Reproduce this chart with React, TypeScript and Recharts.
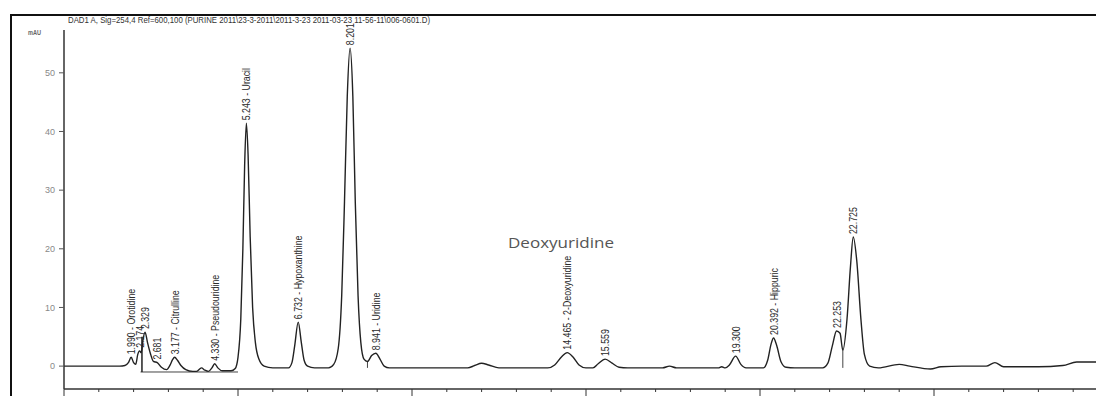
import React from 'react';
import { ComposedChart, Line, XAxis, YAxis, ReferenceDot, ReferenceLine } from 'recharts';

// Chromatogram signal (time in minutes, mAU)
const sigTime = [
  0, 1.0, 1.6, 1.75, 1.85, 1.93, 2.0, 2.06, 2.12, 2.17, 2.22, 2.27, 2.33, 2.4, 2.48, 2.57, 2.68, 2.8, 2.95,
  3.05, 3.12, 3.18, 3.26, 3.36, 3.5, 3.7, 3.8, 3.95, 4.05, 4.15, 4.25, 4.33, 4.42, 4.55, 4.8, 4.92,
  5.0, 5.08, 5.14, 5.19, 5.24, 5.29, 5.35, 5.42, 5.5, 5.6, 5.75, 6.0,
  6.45, 6.55, 6.63, 6.73, 6.82, 6.9, 7.0, 7.2, 7.6,
  7.75, 7.88, 7.98, 8.06, 8.14, 8.22, 8.3, 8.37, 8.45, 8.53, 8.62, 8.72, 8.84, 8.96, 9.08, 9.2, 9.35,
  11.6, 11.8, 12.0, 12.2, 12.5, 13.9, 14.1, 14.3, 14.46, 14.62, 14.8, 15.0, 15.2, 15.35, 15.55, 15.75, 15.95, 16.2,
  17.2, 17.4, 17.6, 18.8, 18.9, 19.0, 19.12, 19.3, 19.45, 19.6,
  20.1, 20.22, 20.32, 20.39, 20.48, 20.6, 20.75, 21.0,
  21.8, 21.95, 22.08, 22.2, 22.3, 22.38, 22.5, 22.6, 22.68, 22.78, 22.9, 23.0, 23.15, 23.4,
  24.0, 24.3, 24.9, 25.2, 25.8, 26.5, 26.75, 27.0, 28.0, 28.7, 29.1, 29.6, 30.0,
];
const sigValue = [
  0, 0, 0, 0.1, 0.6, 1.5, 0.6, 0.3, 2.0, 2.6, 2.3, 4.5, 5.8, 4.0, 2.2, 0.8, 0.6, -0.2, -0.6,
  0.2, 1.1, 1.5, 1.0, 0.1, -0.6, -0.9, -0.9, -0.3, -0.7, -0.9, -0.3, 0.4, -0.3, -0.8, -0.8, -0.4,
  1.5, 8, 20, 34, 41.4, 36, 22, 10, 4, 1.2, 0, -0.3,
  -0.3, 0.6, 3.5, 7.5, 4.0, 1.0, 0, -0.3, -0.3,
  0.3, 3, 12, 28, 46, 54.2, 46, 28, 12, 4, 1.2, 0.8, 1.8, 2.2, 1.2, 0, -0.3,
  -0.3, 0.1, 0.5, 0.2, -0.3, -0.3, 0.2, 1.6, 2.3, 1.6, 0.2, -0.3, -0.3, 0.4, 1.2, 0.5, -0.2, -0.3,
  -0.3, 0.0, -0.3, -0.3, -0.1, -0.3, 0.2, 1.7, 0.3, -0.3,
  -0.3, 1.0, 3.8, 4.8, 3.5, 0.8, -0.2, -0.3,
  -0.3, 0.5, 3.5, 6.0, 5.6, 2.7, 8, 17, 22, 18, 8, 2, 0, -0.3,
  0.3, 0, -0.5, -0.1, 0, 0, 0.6, -0.1, -0.1, 0.1, 0.7, 0.7, 0.7,
];

// Peak annotations
const peakTimes = [1.93, 2.174, 2.329, 2.681, 3.177, 4.33, 5.243, 6.732, 8.22, 8.96, 14.465, 15.559, 19.3, 20.392, 22.2, 22.68];
const peakHeights = [1.5, 2.6, 5.8, 0.6, 1.5, 0.4, 41.4, 7.5, 54.2, 2.2, 2.3, 1.2, 1.7, 4.8, 6.0, 22];
const peakNames = [
  '1.990 - Orotidine', '2.174', '2.329', '2.681', '3.177 - Citrulline', '4.330 - Pseudouridine',
  '5.243 - Uracil', '6.732 - Hypoxanthine', '8.201', '8.941 - Uridine', '14.465 - 2-Deoxyuridine',
  '15.559', '19.300', '20.392 - Hippuric', '22.253', '22.725',
];

const xTicks = Array.from({ length: 31 }, (_, i) => i);
const yTicks = [0, 10, 20, 30, 40, 50];

const signal = sigTime.map((t, i) => ({ t, v: sigValue[i] }));

const FONT = '"Liberation Sans", Arial, sans-serif';

const XTick = (props: any) => {
  const { x, y, payload } = props;
  const major = payload.value % 5 === 0;
  return (
    <g>
      <line x1={x} x2={x} y1={y} y2={y + (major ? 7 : 3)} stroke="#333" strokeWidth={1} />
    </g>
  );
};

const makeLabel = (name: string) => (props: any) => {
  const vb = props.viewBox || {};
  const x = vb.x + (vb.width || 0) / 2;
  const y = vb.y + (vb.height || 0) / 2 - 3;
  return (
    <g transform={`translate(${x},${y}) rotate(-90) scale(0.8,1)`}>
      <text x={0} y={0} dy="0.36em" textAnchor="start" fontSize={11} fill="#2a2a2a" fontFamily={FONT}>
        {name}
      </text>
    </g>
  );
};

export default function App() {
  return (
    <div style={{ position: 'absolute', left: 0, top: 0, width: 1096, height: 396, overflow: 'hidden', background: '#fff' }}>
      <style>{`body{margin:0;overflow:hidden;}`}</style>
      <div
        style={{
          position: 'absolute', left: 10, top: 14, width: 1200, height: 500,
          borderTop: '2px solid #111', borderLeft: '2px solid #111',
        }}
      />
      <div style={{ position: 'absolute', left: 0, top: 0 }}>
        <ComposedChart width={1110} height={410} data={signal} margin={{ top: 30, right: 2, bottom: 0, left: 24 }}>
          <XAxis
            type="number"
            dataKey="t"
            domain={[0, 30]}
            ticks={xTicks}
            interval={0}
            tickSize={0}
            tickMargin={0}
            tick={<XTick />}
            height={21}
            axisLine={{ stroke: '#333', strokeWidth: 1.5 }}
            allowDataOverflow
          />
          <YAxis
            type="number"
            domain={[-3.9, 57.3]}
            ticks={yTicks}
            width={40}
            tickSize={5}
            tickMargin={4}
            tick={{ fontSize: 9, fill: '#888', fontFamily: FONT }}
            tickLine={{ stroke: '#555' }}
            axisLine={{ stroke: '#333', strokeWidth: 1.5 }}
            allowDataOverflow
          />
          <ReferenceLine segment={[{ x: 2.2, y: -1.0 }, { x: 5.0, y: -1.0 }]} stroke="#444" strokeWidth={1} />
          <ReferenceLine segment={[{ x: 2.24, y: -1.0 }, { x: 2.24, y: 5.0 }]} stroke="#222" strokeWidth={1.5} />
          <ReferenceLine segment={[{ x: 8.72, y: -0.3 }, { x: 8.72, y: 0.8 }]} stroke="#444" strokeWidth={1} />
          <ReferenceLine segment={[{ x: 22.38, y: -0.3 }, { x: 22.38, y: 2.7 }]} stroke="#444" strokeWidth={1} />
          <Line
            type="monotone"
            dataKey="v"
            stroke="#222"
            strokeWidth={1.4}
            dot={false}
            isAnimationActive={false}
          />
          {peakTimes.map((t, i) => (
            <ReferenceDot
              key={i}
              x={t}
              y={peakHeights[i]}
              r={0}
              fill="none"
              stroke="none"
              label={makeLabel(peakNames[i])}
            />
          ))}
        </ComposedChart>
      </div>
      <svg width={1096} height={396} style={{ position: 'absolute', left: 0, top: 0, pointerEvents: 'none' }}>
        <text x={68} y={23} fontSize={9} fill="#333" fontFamily={FONT} textLength={362} lengthAdjust="spacingAndGlyphs">
          {'DAD1 A, Sig=254,4 Ref=600,100 (PURINE 2011\\23-3-2011\\2011-3-23 2011-03-23 11-56-11\\006-0601.D)'}
        </text>
        <text x={28} y={35} fontSize={7} fontWeight="bold" fill="#666" fontFamily={FONT} textLength={13} lengthAdjust="spacingAndGlyphs">
          mAU
        </text>
        <text x={508} y={248} fontSize={15} fill="#555" fontFamily='"Open Sans", sans-serif' textLength={106} lengthAdjust="spacingAndGlyphs">
          Deoxyuridine
        </text>
      </svg>
    </div>
  );
}
